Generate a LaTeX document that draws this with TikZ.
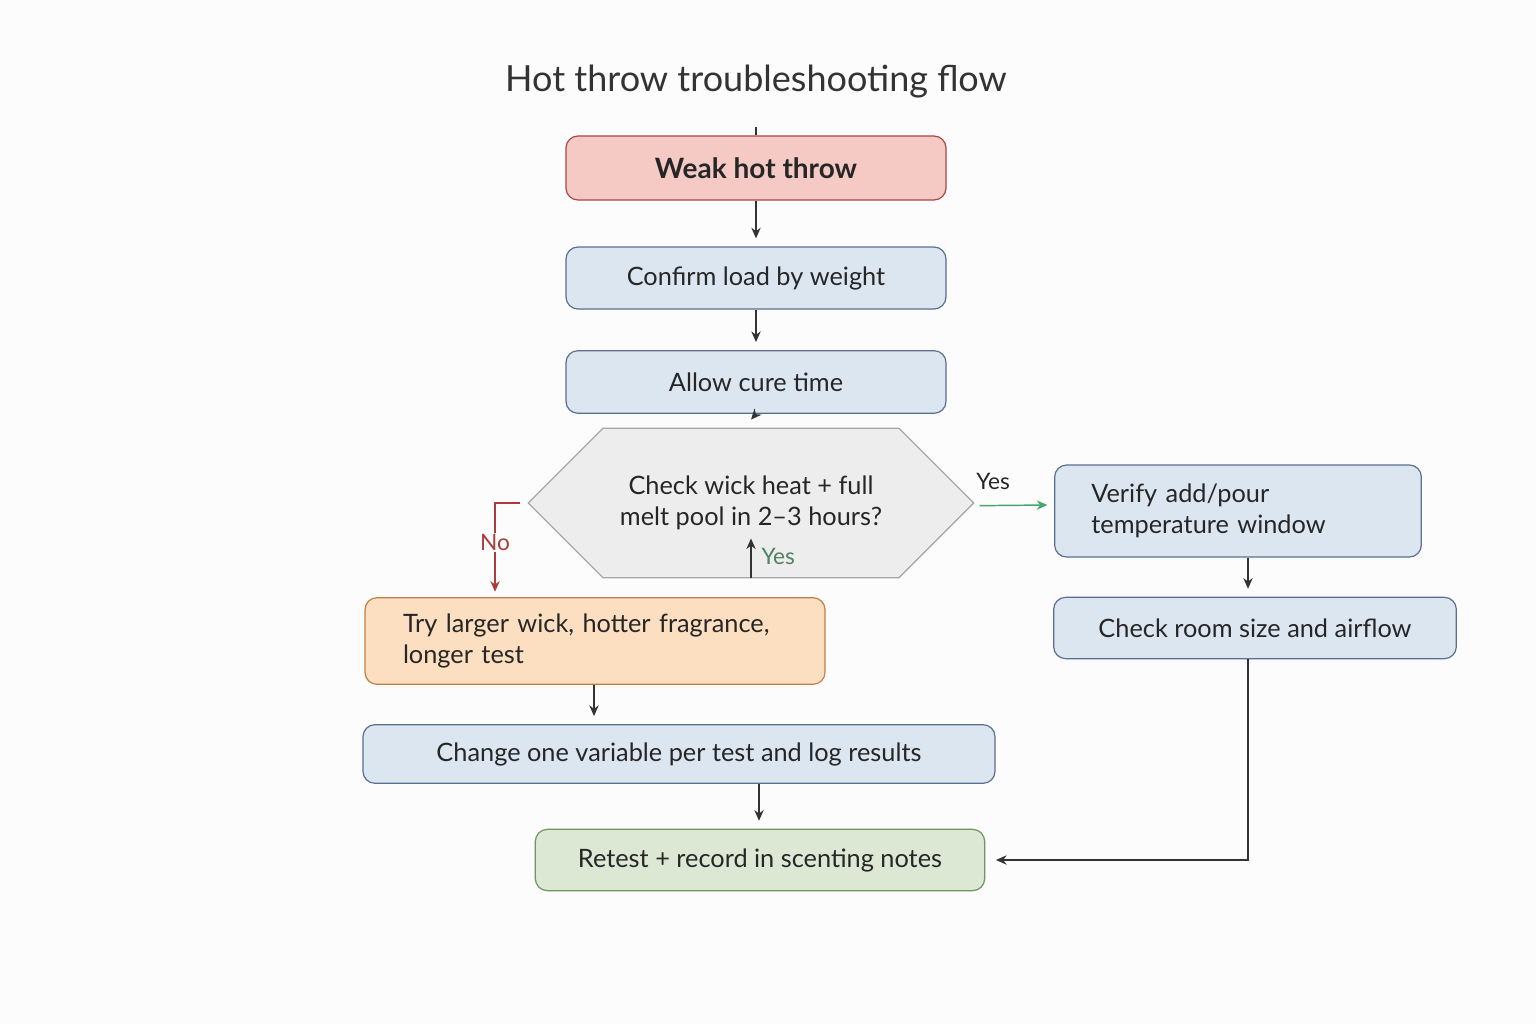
\documentclass[tikz,border=0pt]{standalone}
\usepackage{fontspec}
\setmainfont{Lato}
\usetikzlibrary{shapes.misc,arrows.meta}
\definecolor{edgeblue}{HTML}{5A7090}
\definecolor{fillblue}{HTML}{DCE6F1}
\tikzset{
  box/.style={draw=edgeblue,fill=fillblue,rounded corners=9pt,line width=0.9pt,inner sep=0pt,
    font=\fontsize{19}{23}\selectfont,text=black!85},
  flow/.style={-{Stealth[length=8pt,width=7pt]},line width=1.1pt,draw=black!80},
}
\begin{document}
\begin{tikzpicture}[x=0.75pt,y=0.75pt,yscale=-1,xscale=1]
\fill[white!98!gray] (0,0) rectangle (1536,1024);
\useasboundingbox (0,0) rectangle (1536,1024);
\node at (756,82) [font=\fontsize{27}{32}\selectfont,text=black!80] {Hot throw troubleshooting flow};
% main column
\node (weak) at (756,168) [box,draw={rgb,255:red,170;green,70;blue,65},fill={rgb,255:red,245;green,202;blue,196},minimum width=285pt,minimum height=48pt,font=\fontsize{21}{25}\selectfont\bfseries] {Weak hot throw};
\node (load) at (756,278) [box,minimum width=285pt,minimum height=46.5pt] {Confirm load by weight};
\node (cure) at (756,382) [box,minimum width=285pt,minimum height=47pt] {Allow cure time};
\node (check) at (751,503) [box,rounded corners=0pt,chamfered rectangle,chamfered rectangle xsep=41pt,chamfered rectangle ysep=36pt,draw=black!35,fill=black!7,minimum width=334pt,minimum height=72pt,align=center] {Check wick heat + full\\melt pool in 2--3 hours?};
% right branch
\node (verify) at (1238,511) [box,minimum width=275pt,minimum height=69pt,text width=220pt,align=left] {Verify add/pour\\temperature window};
\node (room) at (1255,628) [box,minimum width=302pt,minimum height=46pt] {Check room size and airflow};
% lower part
\node (try) at (595,641) [box,draw={rgb,255:red,195;green,125;blue,70},fill={rgb,255:red,252;green,223;blue,192},minimum width=345pt,minimum height=65pt,text width=288pt,align=left] {Try larger wick, hotter fragrance,\\longer test};
\node (change) at (679,754) [box,minimum width=474pt,minimum height=44pt] {Change one variable per test and log results};
\node (retest) at (760,860) [box,draw={rgb,255:red,110;green,150;blue,100},fill={rgb,255:red,220;green,232;blue,212},minimum width=337pt,minimum height=46pt] {Retest + record in scenting notes};
% connectors
\draw[flow] (weak) -- ++(0,-41) coordinate (x) (weak.south) -- ([yshift=-6]load.north);
\draw[flow] (load.south) -- ([yshift=-6]cure.north);
\draw[flow] (cure.south) -- ([yshift=-6]check.north);
\draw[flow] (check.south) -- ++(0,-40) node[pos=0.55,right=4pt,text={rgb,255:red,80;green,130;blue,100},font=\fontsize{17}{20}\selectfont] {Yes};
\draw[flow,draw={rgb,255:red,170;green,60;blue,60}] ([xshift=-6]check.west) -| ([yshift=-4]try.north -| 495,0) node[pos=0.72,fill=white!98!gray,inner sep=1pt,text={rgb,255:red,170;green,60;blue,60},font=\fontsize{17}{20}\selectfont] {No};
\draw[flow,draw={rgb,255:red,70;green,165;blue,110}] ([xshift=4,yshift=2]check.east) -- ([xshift=-5]verify.west |- 0,505) node[pos=0.2,above=8pt,font=\fontsize{17}{20}\selectfont,text=black!85] {Yes};
\draw[flow] (verify.south -| 1248,0) -- ([yshift=-6]room.north -| 1248,0);
\draw[flow] (try.south -| 594,0) -- ([yshift=-6]change.north -| 594,0);
\draw[flow] (change.south -| 759,0) -- ([yshift=-6]retest.north -| 759,0);
\draw[flow] (room.south -| 1248,0) |- ([xshift=8]retest.east);
\end{tikzpicture}
\end{document}
